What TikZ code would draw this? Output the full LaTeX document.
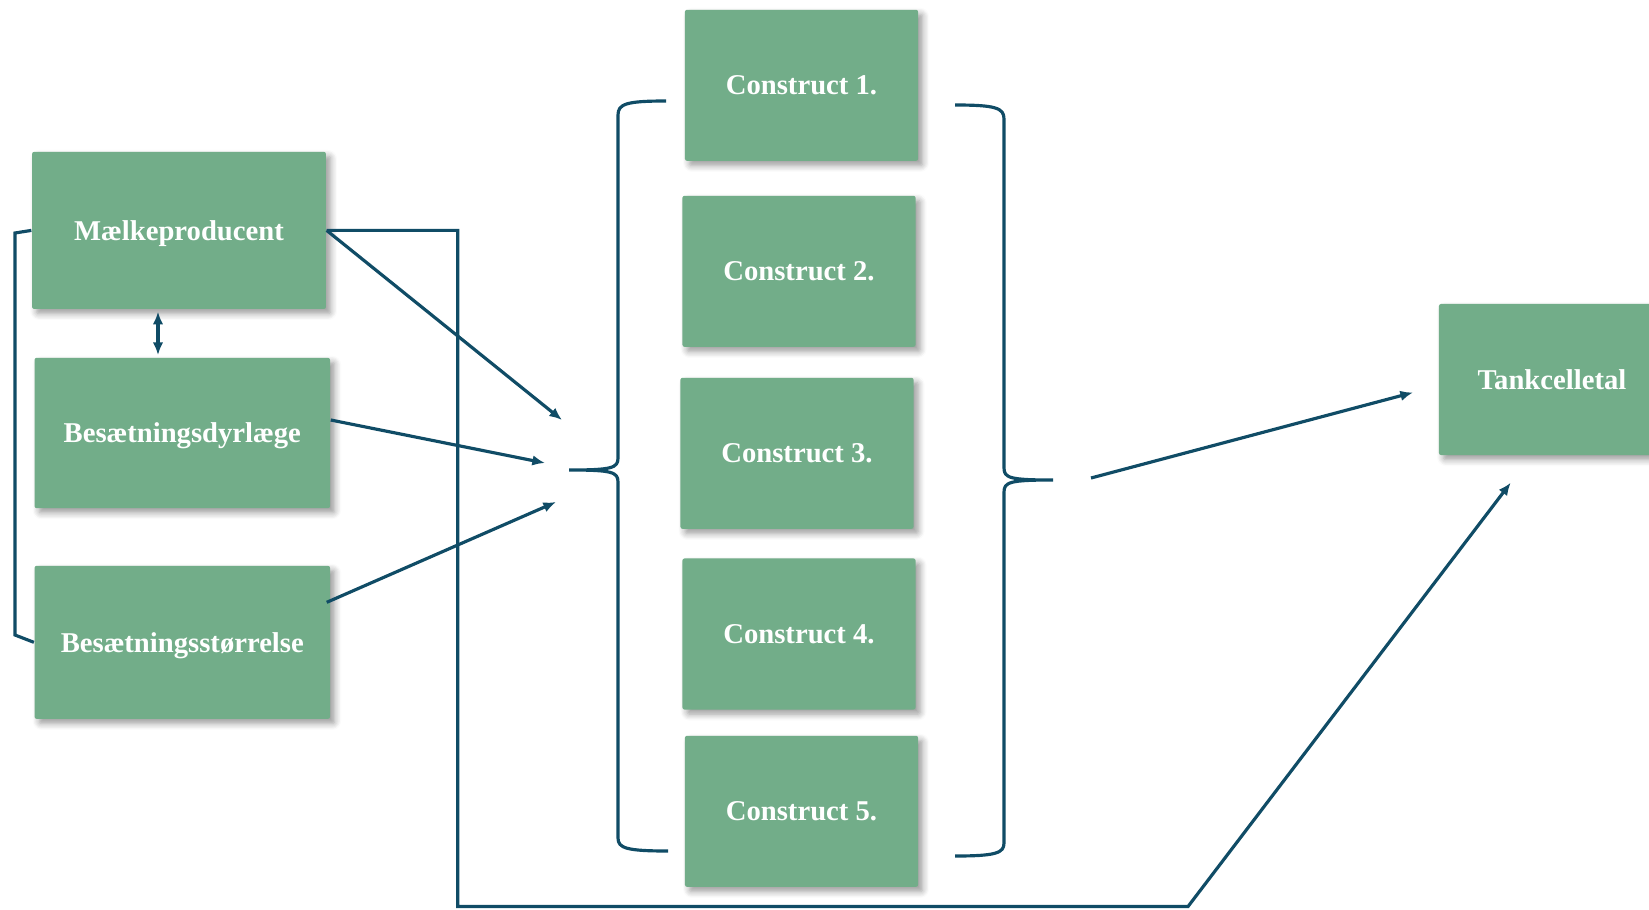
\documentclass[tikz,border=0pt]{standalone}
\usepackage{fontspec}
\setmainfont{Liberation Serif}
\usetikzlibrary{arrows.meta,calc,shadows.blur}
\definecolor{boxgreen}{RGB}{114,173,137}
\definecolor{linkblue}{RGB}{16,76,102}

\begin{document}
\begin{tikzpicture}[x=0.01cm,y=-0.01cm,
    >={Latex[length=3.6pt,width=3pt]},
    factor/.style={fill=boxgreen,text=white,inner sep=0pt,rounded corners=0.6pt,
        font=\fontsize{8.15}{10}\selectfont\bfseries,text depth=0pt,
        blur shadow={shadow xshift=1.3pt,shadow yshift=-1.3pt,shadow blur steps=6,shadow opacity=40}},
    construct/.style={factor,minimum width=2.33cm,minimum height=1.51cm},
    link/.style={linkblue,line width=0.9pt},
    arr/.style={link,->}]
    \useasboundingbox (0,0) rectangle (1649,909);

    % Background factors
    \node[factor,minimum width=2.937cm,minimum height=1.57cm] (melk) at (179,230.4) {Mælkeproducent};
    \node[factor,minimum width=2.953cm,minimum height=1.503cm] (dyr) at (182.3,433) {Besætningsdyrlæge};
    \node[factor,minimum width=2.953cm,minimum height=1.53cm] (str) at (182.3,642.3) {Besætningsstørrelse};

    % Constructs
    \foreach \i/\xx/\yy in {1/801.5/85.3, 2/799/271.3, 3/797/453.3, 4/799/634, 5/801.5/811.3} {
        \node[construct] (c\i) at (\xx,\yy) {Construct \i.};
    }

    % Outcome
    \node[factor,minimum width=2.26cm,minimum height=1.51cm] (tank) at (1552,379.5) {Tankcelletal};

    % Free ends
    \coordinate (in1) at (562,420);
    \coordinate (in2) at (545,463);
    \coordinate (in3) at (556,502);
    \coordinate (out) at (1091,478);
    \coordinate (tankin) at (1413,392.5);
    \coordinate (tankin2) at (1510.7,482.7);

    % Links between background factors
    \draw[link] (melk.west) -- (15,233) -- (15,635) -- (str.west);
    \draw[link,<->] ($(melk.south)+(-21,2)$) -- ($(dyr.north)+(-24.3,-2)$);

    % Arrows into the constructs
    \draw[arr] (melk.east) -- (in1);
    \draw[arr] ($(dyr.east)+(0,-13)$) -- (in2);
    \draw[arr] ($(str.east)+(-4,-40)$) -- (in3);

    % Braces
    \draw[link] (666,101) .. controls (626,101) and (618,104) .. (618,115) -- (618,458)
        .. controls (618,468) and (612,470) .. (569,470)
        .. controls (612,470) and (618,472) .. (618,482) -- (618,838)
        .. controls (618,848) and (626,851) .. (668,851);
    \draw[link] (955,105) .. controls (996,105) and (1004,108) .. (1004,119) -- (1004,468)
        .. controls (1004,478) and (1010,480) .. (1053,480)
        .. controls (1010,480) and (1004,482) .. (1004,492) -- (1004,843)
        .. controls (1004,853) and (996,856) .. (955,856);

    % Arrows to the outcome
    \draw[arr] (out) -- (tankin);
    \draw[arr] (melk.east) -- (457.7,230.4) -- (457.7,906.5) -- (1188,906.5) -- (tankin2);
\end{tikzpicture}
\end{document}
